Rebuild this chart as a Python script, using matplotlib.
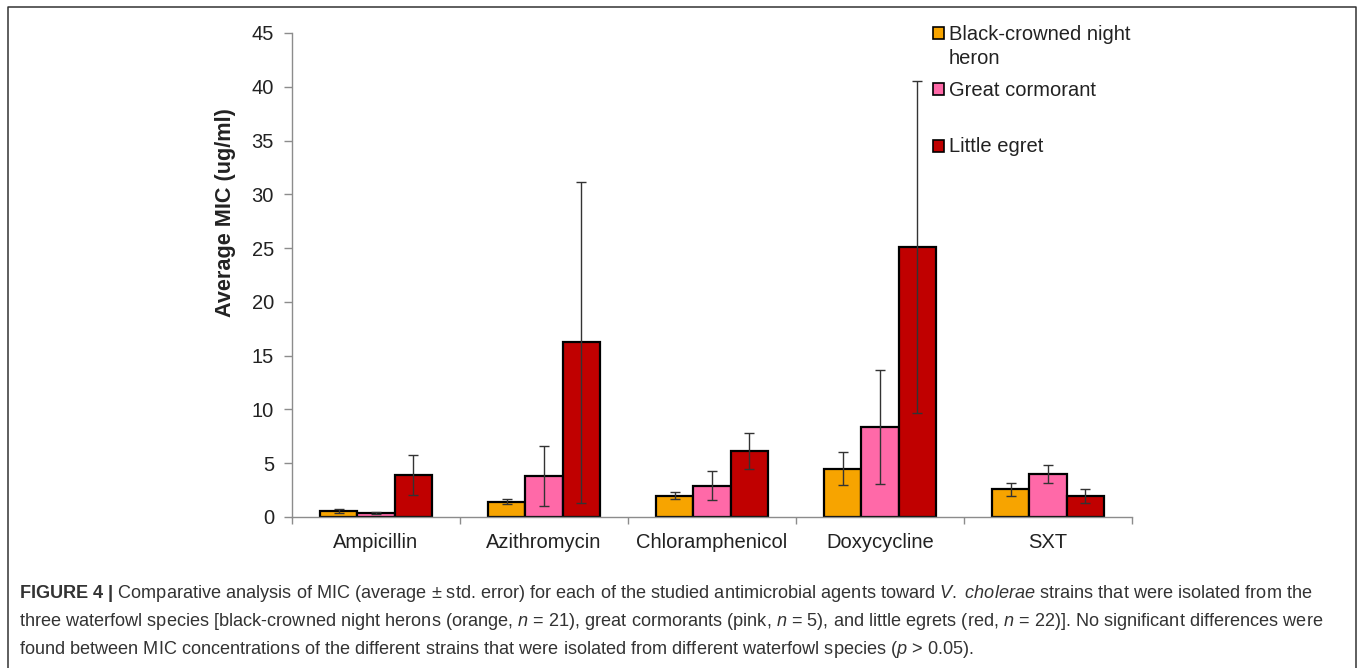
import numpy as np
import matplotlib
matplotlib.use('Agg')
import matplotlib.pyplot as plt
from matplotlib.patches import Rectangle
from matplotlib.lines import Line2D

plt.rcParams['font.family'] = ['Liberation Sans', 'DejaVu Sans']
plt.rcParams['mathtext.fontset'] = 'custom'
plt.rcParams['mathtext.rm'] = 'Liberation Sans'
plt.rcParams['mathtext.it'] = 'Liberation Sans:italic'
plt.rcParams['mathtext.bf'] = 'Liberation Sans:bold'

# datos
agentes = ['Ampicillin', 'Azithromycin', 'Chloramphenicol', 'Doxycycline', 'SXT']
especies = ['Black-crowned night\nheron', 'Great cormorant', 'Little egret']
colores = ['#F7A400', '#FF69A8', '#C00000']

heron = [0.56, 1.43, 1.99, 4.50, 2.58]
heron_err = [0.15, 0.25, 0.33, 1.55, 0.62]
cormorant = [0.37, 3.79, 2.92, 8.41, 4.00]
cormorant_err = [0.05, 2.77, 1.33, 5.30, 0.80]
egret = [3.90, 16.24, 6.12, 25.11, 1.99]
egret_err = [1.86, 14.95, 1.67, 15.45, 0.65]

W, H = 1360, 668


def fx(px):  # pixel -> fraccion de figura
    return px / W


def fy(py):
    return 1 - py / H


fig = plt.figure(figsize=(W / 100, H / 100), dpi=100)
ax = fig.add_axes([fx(292), fy(517), fx(1132) - fx(292), fy(33) - fy(517)])

x = np.arange(len(agentes))
ancho = 0.223
series = [heron, cormorant, egret]
errores = [heron_err, cormorant_err, egret_err]
for i in range(3):
    ax.bar(x + (i - 1) * ancho, series[i], ancho, color=colores[i],
           edgecolor='black', linewidth=1.6, yerr=errores[i],
           error_kw=dict(ecolor='#333333', elinewidth=1, capsize=3.4,
                         capthick=1, zorder=3))

ax.set_xlim(-0.5, 4.5)
ax.set_ylim(0, 45)
ax.set_yticks(range(0, 46, 5))
ax.set_xticks(np.arange(-0.5, 5, 1))
ax.set_xticklabels([])
ax.set_xticks(x, minor=True)
ax.set_xticklabels(agentes, minor=True)

gris = '#8c8c8c'
ax.tick_params(axis='x', which='minor', length=0, pad=11.5, labelsize=14.5,
               labelcolor='#222222')
ax.tick_params(axis='x', which='major', length=5, color=gris, width=1)
ax.tick_params(axis='y', length=6, color=gris, width=1, pad=7,
               labelsize=14.5, labelcolor='#222222')
for lado in ['top', 'right']:
    ax.spines[lado].set_visible(False)
for lado in ['left', 'bottom']:
    ax.spines[lado].set_color(gris)
    ax.spines[lado].set_linewidth(1)

fig.text(fx(225), fy(213), 'Average MIC (ug/ml)', rotation=90,
         fontweight='bold', fontsize=15.6, ha='center', va='center',
         color='#222222')

# leyenda hecha a mano (el cuadro va alineado con la primera linea)
filas_y = [33, 89, 146]
for i in range(3):
    y = filas_y[i]
    fig.patches.append(Rectangle((fx(933), fy(y + 5.5)), 11 / W, 11 / H,
                                 transform=fig.transFigure,
                                 facecolor=colores[i], edgecolor='black',
                                 linewidth=1.2))
    fig.text(fx(949), fy(y - 8.5), especies[i], va='top', ha='left',
             fontsize=14.5, linespacing=1.36, color='#222222')

# marco de la figura
fig.add_artist(Line2D([fx(8), fx(8), fx(1356), fx(1356)],
                      [0, fy(6.5), fy(6.5), 0], transform=fig.transFigure,
                      color='#333333', linewidth=1.1))

# pie de figura
lineas = [
    r'$\mathbf{FIGURE\ 4\ |}$ Comparative analysis of MIC (average ± std. error) for each of the '
    r'studied antimicrobial agents toward $\mathit{V.}$ $\mathit{cholerae}$ strains that were isolated from the',
    r'three waterfowl species [black-crowned night herons (orange, $\mathit{n}$ = 21), great cormorants '
    r'(pink, $\mathit{n}$ = 5), and little egrets (red, $\mathit{n}$ = 22)]. No significant differences were',
    r'found between MIC concentrations of the different strains that were isolated from different '
    r'waterfowl species ($\mathit{p}$ > 0.05).',
]
base_y = [598, 626, 654]
for i in range(3):
    fig.text(fx(19), fy(base_y[i]), lineas[i], va='baseline', ha='left',
             fontsize=13.05, color='#333333')

fig.savefig('out.png', dpi=100)
